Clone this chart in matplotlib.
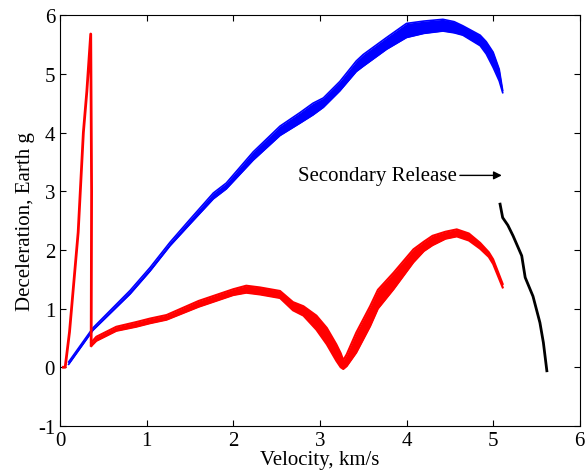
import matplotlib.pyplot as plt
import numpy as np

plt.rcParams['font.family'] = ['Liberation Serif', 'DejaVu Serif']
plt.rcParams['axes.unicode_minus'] = False

# primary release, blue band (upper / lower envelope of the runs)
blue_v = [0.10, 0.38, 0.81, 1.04, 1.27, 1.5, 1.77, 1.92, 2.23, 2.54, 2.77, 2.92, 3.04,
          3.23, 3.42, 3.5, 3.77, 4.0, 4.2, 4.42, 4.55, 4.65, 4.85, 4.92, 5.0, 5.07, 5.11]
blue_hi = [0.09, 0.67, 1.31, 1.70, 2.13, 2.52, 2.97, 3.14, 3.67, 4.11, 4.34, 4.50, 4.59,
           4.87, 5.22, 5.33, 5.62, 5.86, 5.90, 5.93, 5.89, 5.82, 5.66, 5.55, 5.37, 5.08, 4.72]
blue_lo = [0.05, 0.63, 1.25, 1.64, 2.07, 2.44, 2.87, 3.04, 3.53, 3.95, 4.16, 4.30, 4.43,
           4.71, 5.04, 5.13, 5.42, 5.62, 5.69, 5.73, 5.70, 5.66, 5.48, 5.34, 5.11, 4.88, 4.68]

# red spike at the start
spike_v = [0.04, 0.06, 0.11, 0.21, 0.27, 0.31, 0.355, 0.365, 0.36]
spike_g = [0.0, 0.0, 0.6, 2.3, 4.0, 4.7, 5.68, 3.0, 0.38]

# red band after the spike
red_v = [0.36, 0.42, 0.65, 0.88, 1.04, 1.23, 1.6, 2.0, 2.15, 2.31, 2.54, 2.69, 2.81,
         2.96, 3.08, 3.19, 3.24, 3.27, 3.31, 3.42, 3.58, 3.67, 3.85, 4.08, 4.2, 4.3,
         4.45, 4.58, 4.72, 4.85, 4.95, 5.0, 5.11]
red_hi = [0.42, 0.52, 0.69, 0.77, 0.83, 0.89, 1.13, 1.33, 1.39, 1.36, 1.30, 1.11, 1.04,
          0.88, 0.67, 0.39, 0.24, 0.12, 0.22, 0.59, 1.04, 1.32, 1.61, 2.01, 2.14, 2.24,
          2.31, 2.35, 2.28, 2.12, 1.96, 1.84, 1.42]
red_lo = [0.36, 0.45, 0.62, 0.69, 0.75, 0.81, 1.03, 1.23, 1.27, 1.24, 1.18, 0.97, 0.88,
          0.64, 0.39, 0.11, 0.00, -0.03, 0.02, 0.25, 0.70, 1.00, 1.33, 1.79, 1.98, 2.08,
          2.19, 2.23, 2.16, 2.02, 1.88, 1.76, 1.36]

# secondary release (black)
sec_v = [5.08, 5.11, 5.17, 5.23, 5.33, 5.37, 5.46, 5.54, 5.58, 5.62]
sec_g = [2.78, 2.55, 2.42, 2.24, 1.90, 1.53, 1.21, 0.76, 0.42, -0.06]

fig = plt.figure(figsize=(5.88, 4.77), dpi=100)
ax = fig.add_axes([0.102, 0.105, 0.884, 0.861])

ax.fill_between(blue_v, blue_lo, blue_hi, color='blue', lw=0)
ax.plot(blue_v, blue_hi, color='blue', lw=1.2, solid_joinstyle='round')
ax.plot(blue_v, blue_lo, color='blue', lw=1.2, solid_joinstyle='round')

ax.plot(spike_v, spike_g, color='red', lw=2)
ax.fill_between(red_v, red_lo, red_hi, color='red', lw=0)
ax.plot(red_v, red_hi, color='red', lw=1.5, solid_joinstyle='round')
ax.plot(red_v, red_lo, color='red', lw=1.5, solid_joinstyle='round')

ax.plot(sec_v, sec_g, color='black', lw=2, solid_joinstyle='round')

ax.annotate('Secondary Release', xy=(5.1, 3.27), xytext=(2.75, 3.27),
            ha='left', va='center', fontsize=15,
            arrowprops=dict(arrowstyle='-|>', color='black', lw=1,
                            shrinkA=0, shrinkB=0, mutation_scale=12))

ax.set_xlim(0, 6)
ax.set_ylim(-1, 6)
ax.set_xticks(np.arange(0, 7, 1))
ax.set_yticks(np.arange(-1, 7, 1))
ax.tick_params(direction='in', top=True, right=True, length=4, labelsize=15)
ax.set_xlabel('Velocity, km/s', fontsize=15, labelpad=0)
ax.set_ylabel('Deceleration, Earth g', fontsize=15, labelpad=2)

fig.savefig('out.png', dpi=100)
